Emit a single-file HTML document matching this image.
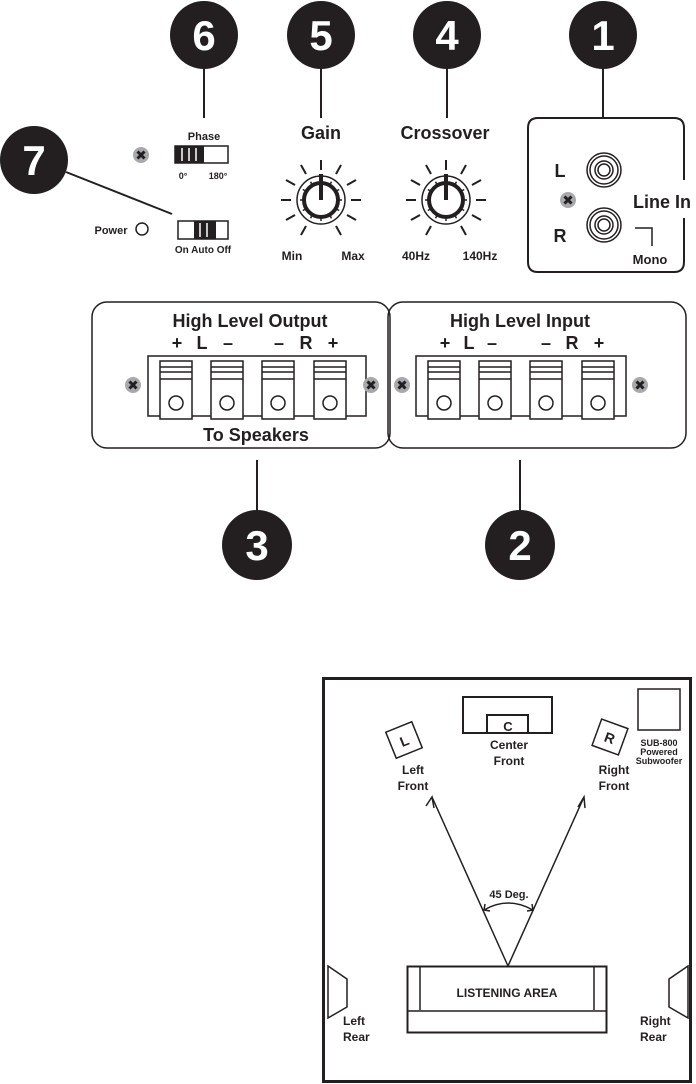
<!DOCTYPE html>
<html><head><style>body{margin:0;background:#fff}svg{display:block}text{font-family:"Liberation Sans",Arial,sans-serif;font-weight:bold;fill:#231f20}</style></head><body>
<svg width="696" height="1084" viewBox="0 0 696 1084" xmlns="http://www.w3.org/2000/svg">
<defs>
<g id="scr"><circle r="8" fill="#a7a9ac"/><path d="M-3.5,-3.5L3.5,3.5M3.5,-3.5L-3.5,3.5" stroke="#231f20" stroke-width="3"/></g>
<g id="term"><rect x="0" y="0" width="32" height="58" fill="#fff" stroke="#231f20" stroke-width="1.5"/><line x1="0" y1="6" x2="32" y2="6" stroke="#231f20" stroke-width="1.5"/><line x1="0" y1="11" x2="32" y2="11" stroke="#231f20" stroke-width="1.5"/><line x1="0" y1="18" x2="32" y2="18" stroke="#231f20" stroke-width="1.5"/><circle cx="16" cy="42" r="7" fill="#fff" stroke="#231f20" stroke-width="1.5"/></g>
<g id="knob" stroke="#231f20" fill="none">
<circle r="24" stroke-width="1.5"/><circle r="17" stroke-width="4"/><line x1="0" y1="0" x2="0" y2="-26" stroke-width="4"/>
<g stroke-width="2"><line x1="0" y1="-30" x2="0" y2="-40"/><line x1="15" y1="-26" x2="20" y2="-35"/><line x1="-15" y1="-26" x2="-20" y2="-35"/><line x1="26" y1="-15" x2="35" y2="-20"/><line x1="-26" y1="-15" x2="-35" y2="-20"/><line x1="30" y1="0" x2="40" y2="0"/><line x1="-30" y1="0" x2="-40" y2="0"/><line x1="26" y1="15" x2="35" y2="20"/><line x1="-26" y1="15" x2="-35" y2="20"/><line x1="15" y1="26" x2="20" y2="35"/><line x1="-15" y1="26" x2="-20" y2="35"/></g>
<g stroke-width="1.5"><line x1="0" y1="-17" x2="0" y2="-21"/><line x1="8.5" y1="-14.7" x2="10.5" y2="-18.2"/><line x1="-8.5" y1="-14.7" x2="-10.5" y2="-18.2"/><line x1="14.7" y1="-8.5" x2="18.2" y2="-10.5"/><line x1="-14.7" y1="-8.5" x2="-18.2" y2="-10.5"/><line x1="17" y1="0" x2="21" y2="0"/><line x1="-17" y1="0" x2="-21" y2="0"/><line x1="14.7" y1="8.5" x2="18.2" y2="10.5"/><line x1="-14.7" y1="8.5" x2="-18.2" y2="10.5"/><line x1="8.5" y1="14.7" x2="10.5" y2="18.2"/><line x1="-8.5" y1="14.7" x2="-10.5" y2="18.2"/><line x1="0" y1="17" x2="0" y2="21"/></g>
</g>
<g id="rca" fill="none" stroke="#231f20"><circle r="17" stroke-width="1.5"/><circle r="14" stroke-width="1.5"/><circle r="9" stroke-width="1.5"/><circle r="6" stroke-width="1.5"/></g>
</defs>

<!-- number badges -->
<g fill="#231f20">
<circle cx="204" cy="35" r="34"/><circle cx="321" cy="35" r="34"/><circle cx="447" cy="35" r="34"/><circle cx="603" cy="35" r="34"/><circle cx="34" cy="160" r="34"/><circle cx="257" cy="545" r="35"/><circle cx="520" cy="545" r="35"/>
</g>
<g style="font-family:'Liberation Sans',Arial,sans-serif;font-weight:bold;font-size:42px" fill="#fff" text-anchor="middle">
<text x="204" y="50" style="fill:#fff">6</text><text x="321" y="50" style="fill:#fff">5</text><text x="447" y="50" style="fill:#fff">4</text><text x="603" y="50" style="fill:#fff">1</text><text x="34" y="175" style="fill:#fff">7</text><text x="257" y="560" style="fill:#fff">3</text><text x="520" y="560" style="fill:#fff">2</text>
</g>
<g stroke="#231f20" stroke-width="2">
<line x1="204" y1="68" x2="204" y2="118"/><line x1="321" y1="68" x2="321" y2="118"/><line x1="447" y1="68" x2="447" y2="118"/><line x1="603" y1="68" x2="603" y2="118"/><line x1="66" y1="172" x2="172" y2="214"/><line x1="257" y1="460" x2="257" y2="512"/><line x1="520" y1="460" x2="520" y2="512"/>
</g>

<!-- phase -->
<text x="204" y="140" font-size="11" text-anchor="middle">Phase</text>
<use href="#scr" x="141" y="155"/>
<rect x="175" y="146" width="53" height="17" fill="#fff" stroke="#231f20" stroke-width="1.5"/>
<rect x="175" y="146" width="29" height="17" fill="#231f20"/>
<g stroke="#fff" stroke-width="1.5"><line x1="182" y1="148" x2="182" y2="161"/><line x1="189" y1="148" x2="189" y2="161"/><line x1="196" y1="148" x2="196" y2="161"/></g>
<text x="183" y="179" font-size="9" text-anchor="middle">0°</text><text x="218" y="179" font-size="9" text-anchor="middle">180°</text>

<!-- power -->
<text x="111" y="234" font-size="11" text-anchor="middle">Power</text>
<circle cx="142" cy="229" r="6" fill="none" stroke="#231f20" stroke-width="1.5"/>
<rect x="178" y="221" width="50" height="18" fill="#fff" stroke="#231f20" stroke-width="1.5"/>
<rect x="194" y="221" width="22" height="18" fill="#231f20"/>
<g stroke="#fff" stroke-width="1.5"><line x1="200" y1="223" x2="200" y2="237"/><line x1="207" y1="223" x2="207" y2="237"/></g>
<text x="203" y="253" font-size="10" text-anchor="middle">On  Auto  Off</text>

<!-- knobs -->
<text x="321" y="139" font-size="18" text-anchor="middle">Gain</text>
<use href="#knob" x="321" y="200"/>
<text x="292" y="260" font-size="12" text-anchor="middle">Min</text><text x="353" y="260" font-size="12" text-anchor="middle">Max</text>
<text x="445" y="139" font-size="18" text-anchor="middle">Crossover</text>
<use href="#knob" x="446" y="200"/>
<text x="416" y="260" font-size="12" text-anchor="middle">40Hz</text><text x="480" y="260" font-size="12" text-anchor="middle">140Hz</text>

<!-- line in -->
<path d="M684,180 L684,128 Q684,118 674,118 L538,118 Q528,118 528,128 L528,262 Q528,272 538,272 L674,272 Q684,272 684,262 L684,218" fill="none" stroke="#231f20" stroke-width="2"/>
<text x="560" y="177" font-size="18" text-anchor="middle">L</text>
<text x="560" y="242" font-size="18" text-anchor="middle">R</text>
<use href="#rca" x="604" y="170"/><use href="#rca" x="604" y="225"/>
<use href="#scr" x="568" y="200"/>
<text x="662" y="208" font-size="18" text-anchor="middle">Line In</text>
<path d="M635,228 L652,228 L652,246" fill="none" stroke="#231f20" stroke-width="1.5"/>
<text x="650" y="264" font-size="13" text-anchor="middle">Mono</text>

<!-- panels -->
<rect x="92" y="302" width="298" height="146" rx="15" fill="none" stroke="#231f20" stroke-width="1.5"/>
<rect x="388" y="302" width="298" height="146" rx="15" fill="none" stroke="#231f20" stroke-width="1.5"/>
<text x="250" y="327" font-size="18" text-anchor="middle">High Level Output</text>
<text x="520" y="327" font-size="18" text-anchor="middle">High Level Input</text>
<g font-size="18" text-anchor="middle">
<text x="177" y="349">+</text><text x="202" y="349">L</text><text x="228" y="349">–</text><text x="279" y="349">–</text><text x="306" y="349">R</text><text x="333" y="349">+</text>
<text x="445" y="349">+</text><text x="469" y="349">L</text><text x="492" y="349">–</text><text x="546" y="349">–</text><text x="572" y="349">R</text><text x="599" y="349">+</text>
</g>
<rect x="148" y="356" width="218" height="60" fill="none" stroke="#231f20" stroke-width="1.5"/>
<use href="#term" x="160" y="361"/><use href="#term" x="211" y="361"/><use href="#term" x="262" y="361"/><use href="#term" x="314" y="361"/>
<use href="#scr" x="133" y="385"/><use href="#scr" x="371" y="385"/>
<text x="256" y="441" font-size="18" text-anchor="middle">To Speakers</text>
<rect x="416" y="356" width="210" height="60" fill="none" stroke="#231f20" stroke-width="1.5"/>
<use href="#term" x="428" y="361"/><use href="#term" x="479" y="361"/><use href="#term" x="530" y="361"/><use href="#term" x="582" y="361"/>
<use href="#scr" x="402" y="385"/><use href="#scr" x="640" y="385"/>

<!-- room -->
<rect x="323.5" y="678.5" width="367" height="403" fill="none" stroke="#231f20" stroke-width="3"/>
<rect x="463" y="697" width="89" height="36" fill="none" stroke="#231f20" stroke-width="2"/>
<rect x="487" y="715" width="41" height="18" fill="none" stroke="#231f20" stroke-width="2"/>
<text x="508" y="731" font-size="13" text-anchor="middle">C</text>
<text x="509" y="749" font-size="12" text-anchor="middle">Center</text><text x="509" y="765" font-size="12" text-anchor="middle">Front</text>
<rect x="638" y="689" width="42" height="41" fill="none" stroke="#231f20" stroke-width="1.5"/>
<text x="659" y="746" font-size="9" text-anchor="middle">SUB-800</text><text x="659" y="755" font-size="9" text-anchor="middle">Powered</text><text x="659" y="764" font-size="9" text-anchor="middle">Subwoofer</text>
<g transform="translate(404,740) rotate(-22)"><rect x="-14" y="-14" width="28" height="28" fill="#fff" stroke="#231f20" stroke-width="1.5"/><text x="0" y="6" font-size="14" text-anchor="middle">L</text></g>
<g transform="translate(610,737) rotate(20)"><rect x="-14" y="-14" width="28" height="28" fill="#fff" stroke="#231f20" stroke-width="1.5"/><text x="0" y="6" font-size="14" text-anchor="middle">R</text></g>
<text x="413" y="774" font-size="12" text-anchor="middle">Left</text><text x="413" y="790" font-size="12" text-anchor="middle">Front</text>
<text x="614" y="774" font-size="12" text-anchor="middle">Right</text><text x="614" y="790" font-size="12" text-anchor="middle">Front</text>
<g stroke="#231f20" stroke-width="1.5" fill="none">
<line x1="508" y1="966" x2="432" y2="797"/><line x1="508" y1="966" x2="584" y2="797"/>
<path d="M426,806 L432,797 L434,808"/><path d="M578,807 L584,797 L585,808"/>
<path d="M484,910 Q508,896 533,910"/><path d="M485,904 L484,910 L490,911"/><path d="M527,911 L533,910 L532,904"/>
</g>
<text x="509" y="898" font-size="11" text-anchor="middle">45 Deg.</text>
<rect x="407.5" y="966.5" width="199" height="66" fill="none" stroke="#231f20" stroke-width="2"/>
<line x1="420" y1="967" x2="420" y2="1010" stroke="#231f20" stroke-width="1.5"/>
<line x1="594" y1="967" x2="594" y2="1010" stroke="#231f20" stroke-width="1.5"/>
<line x1="408" y1="1011" x2="606" y2="1011" stroke="#231f20" stroke-width="1.5"/>
<text x="507" y="997" font-size="12" text-anchor="middle">LISTENING AREA</text>
<path d="M328,966 L347,979 L347,1007 L328,1018 Z" fill="none" stroke="#231f20" stroke-width="1.5"/>
<path d="M688,966 L669,979 L669,1007 L688,1018 Z" fill="none" stroke="#231f20" stroke-width="1.5"/>
<text x="343" y="1025" font-size="12">Left</text><text x="343" y="1041" font-size="12">Rear</text>
<text x="640" y="1025" font-size="12">Right</text><text x="640" y="1041" font-size="12">Rear</text>
</svg>
</body></html>
